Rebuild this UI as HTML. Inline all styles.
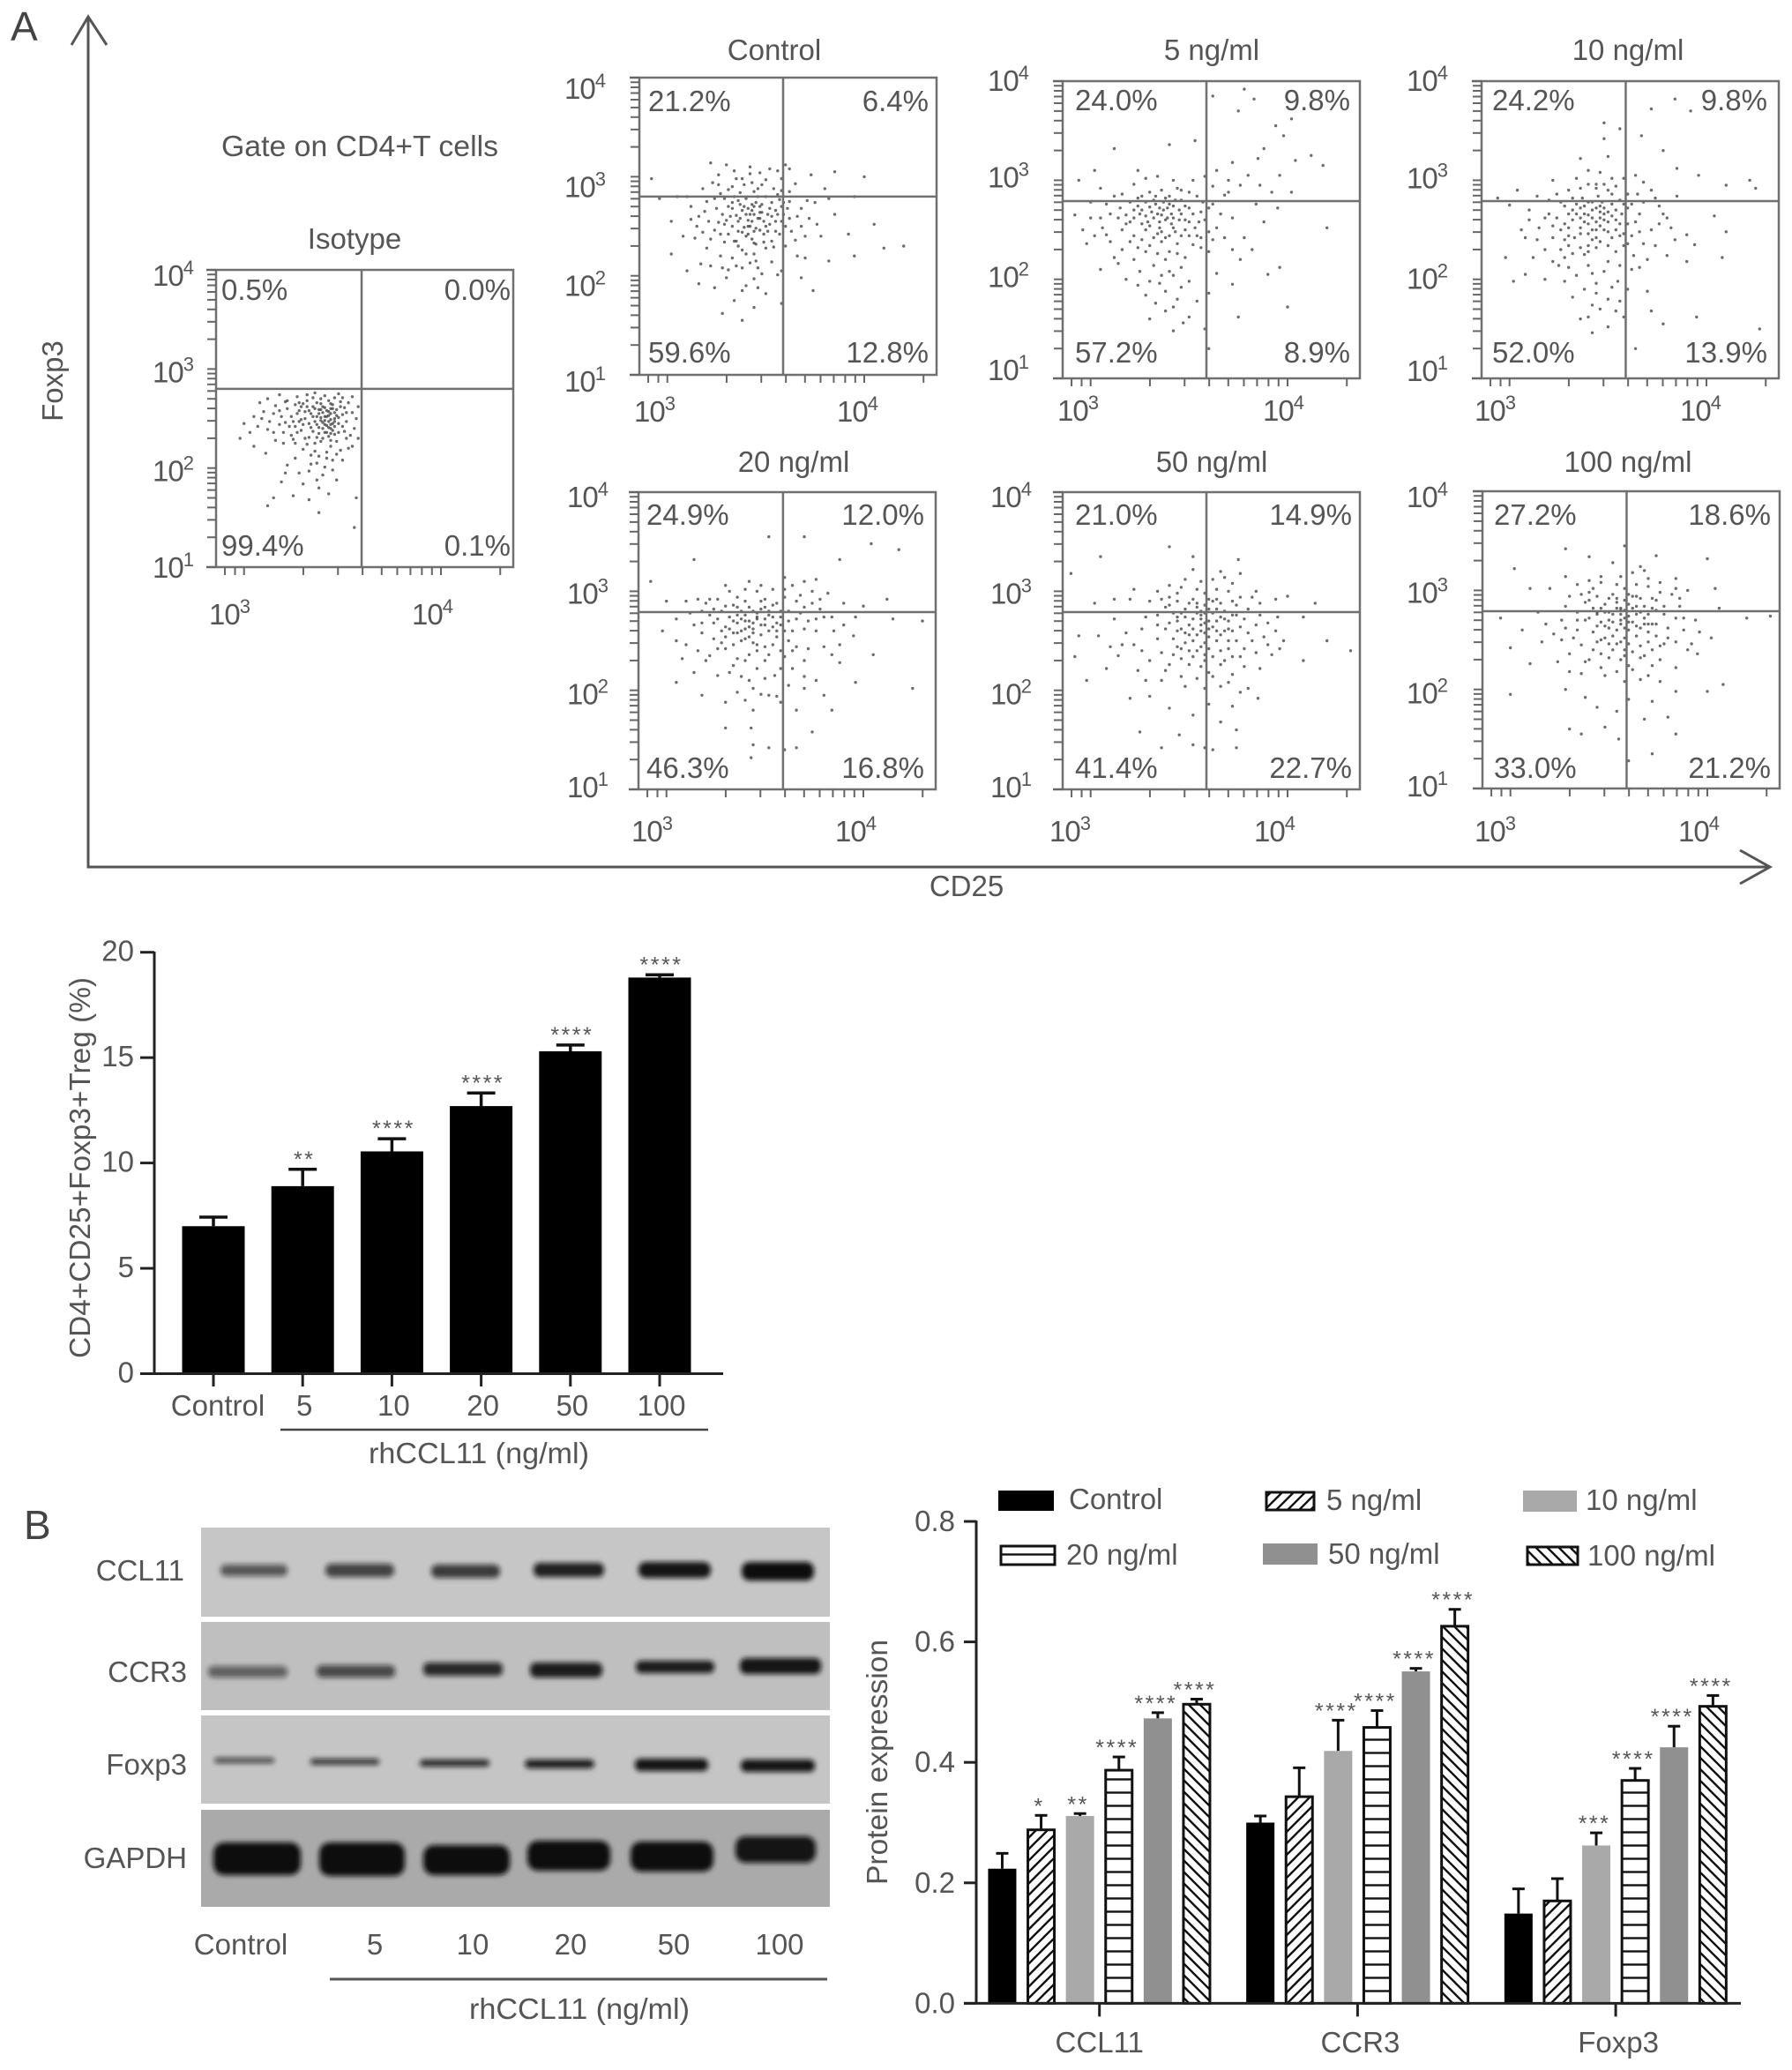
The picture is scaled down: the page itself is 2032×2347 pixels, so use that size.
<!DOCTYPE html>
<html>
<head>
<meta charset="utf-8">
<title>rhCCL11 Treg flow cytometry and protein expression</title>
<style>
html,body{margin:0;padding:0;background:#fff;}
svg{display:block;font-family:"Liberation Sans",sans-serif;}
text{fill:#555;font-size:33px;}
</style>
</head>
<body>
<svg id="fig" xmlns="http://www.w3.org/2000/svg" width="2032" height="2347" viewBox="0 0 2032 2347">
<defs>
<pattern id="hatchFwd" patternUnits="userSpaceOnUse" width="13" height="13"><path d="M-2,2 L2,-2 M0,13 L13,0 M11,15 L15,11" stroke="#111" stroke-width="2.4"/></pattern>
<pattern id="hatchBack" patternUnits="userSpaceOnUse" width="13" height="13"><path d="M-2,11 L2,15 M0,0 L13,13 M11,-2 L15,2" stroke="#111" stroke-width="2.4"/></pattern>
<pattern id="hatchHoriz" patternUnits="userSpaceOnUse" width="15" height="15"><path d="M0,7.5 L15,7.5" stroke="#111" stroke-width="2.4"/></pattern>
<filter id="bandBlur" x="-20%" y="-80%" width="140%" height="260%"><feGaussianBlur stdDeviation="3"/></filter>
</defs>
<rect width="2032" height="2347" fill="#fff"/>

<text x="12" y="46" style="font-size:46px;fill:#444">A</text>
<text x="27" y="1745" style="font-size:46px;fill:#444">B</text>

<g stroke="#555" stroke-width="3" fill="none">
<path d="M100,19 L100,983 L2007,983"/>
<path d="M81,51 L100,19 L121,51"/>
<path d="M1973,964 L2007,983 L1973,1002"/>
</g>
<text transform="translate(71,432) rotate(-90)" text-anchor="middle">Foxp3</text>
<text x="1096" y="1016" text-anchor="middle">CD25</text>
<text x="408" y="177" text-anchor="middle" textLength="314" lengthAdjust="spacingAndGlyphs">Gate on CD4+T cells</text>

<g id="flowPanels"></g>
<g id="tregChart"></g>

<g>
<rect x="228" y="1732" width="713" height="101" fill="#c6c6c6"/>
<rect x="228" y="1839" width="713" height="100" fill="#bfbfbf"/>
<rect x="228" y="1945" width="713" height="100" fill="#c5c5c5"/>
<rect x="228" y="2052" width="713" height="110" fill="#aaaaaa"/>
<g filter="url(#bandBlur)" fill="#111">
<rect x="250" y="1774" width="76" height="13" rx="6" opacity=".62"/>
<rect x="369" y="1773" width="78" height="15" rx="7" opacity=".72"/>
<rect x="489" y="1774" width="78" height="15" rx="7" opacity=".76"/>
<rect x="605" y="1772" width="80" height="16" rx="7" opacity=".9"/>
<rect x="724" y="1771" width="82" height="18" rx="8" opacity=".96"/>
<rect x="841" y="1771" width="82" height="21" rx="9" opacity="1"/>
<rect x="236" y="1889" width="90" height="13" rx="6" opacity=".55"/>
<rect x="359" y="1888" width="89" height="14" rx="6" opacity=".68"/>
<rect x="480" y="1885" width="90" height="15" rx="6" opacity=".85"/>
<rect x="601" y="1885" width="82" height="17" rx="7" opacity=".92"/>
<rect x="721" y="1883" width="89" height="14" rx="6" opacity=".92"/>
<rect x="839" y="1880" width="92" height="18" rx="7" opacity=".96"/>
<rect x="243" y="1993" width="68" height="6" rx="3" opacity=".7"/>
<rect x="352" y="1994" width="78" height="7" rx="3" opacity=".78"/>
<rect x="476" y="1995" width="79" height="8" rx="4" opacity=".85"/>
<rect x="595" y="1995" width="79" height="10" rx="5" opacity=".9"/>
<rect x="720" y="1994" width="83" height="14" rx="6" opacity=".96"/>
<rect x="840" y="1995" width="84" height="14" rx="6" opacity=".96"/>
<rect x="242" y="2089" width="99" height="37" rx="12" opacity="1"/>
<rect x="362" y="2089" width="97" height="38" rx="12" opacity="1"/>
<rect x="480" y="2092" width="98" height="34" rx="12" opacity="1"/>
<rect x="598" y="2087" width="94" height="34" rx="12" opacity="1"/>
<rect x="715" y="2088" width="94" height="34" rx="12" opacity="1"/>
<rect x="834" y="2082" width="91" height="30" rx="11" opacity=".96"/>
</g>
<text x="209" y="1792" text-anchor="end">CCL11</text>
<text x="212" y="1907" text-anchor="end">CCR3</text>
<text x="212" y="2012" text-anchor="end">Foxp3</text>
<text x="212" y="2118" text-anchor="end">GAPDH</text>
<text x="273" y="2216" text-anchor="middle">Control</text>
<text x="425" y="2216" text-anchor="middle">5</text>
<text x="536" y="2216" text-anchor="middle">10</text>
<text x="647" y="2216" text-anchor="middle">20</text>
<text x="764" y="2216" text-anchor="middle">50</text>
<text x="884" y="2216" text-anchor="middle">100</text>
<line x1="374" y1="2244" x2="938" y2="2244" stroke="#555" stroke-width="3"/>
<text x="657" y="2289" text-anchor="middle" textLength="250" lengthAdjust="spacingAndGlyphs">rhCCL11 (ng/ml)</text>
</g>

<g id="proteinChart"></g>
</svg>

<script>
/* ---------- Flow cytometry data: [log10 CD25, log10 Foxp3], estimated by eye ---------- */
const isotypePoints=[[3.42,2.58],[3.44,2.55],[3.40,2.62],[3.46,2.50],[3.38,2.55],[3.43,2.47],[3.47,2.59],[3.41,2.44],[3.36,2.60],[3.45,2.64],[3.39,2.48],[3.48,2.45],[3.35,2.52],[3.44,2.40],[3.50,2.54],[3.33,2.58],[3.42,2.36],[3.37,2.44],[3.49,2.62],[3.31,2.50],[3.46,2.34],[3.40,2.30],[3.52,2.47],[3.29,2.62],[3.34,2.41],[3.43,2.68],[3.51,2.37],[3.27,2.55],[3.38,2.35],[3.47,2.27],[3.25,2.47],[3.55,2.56],[3.32,2.68],[3.22,2.60],[3.36,2.25],[3.44,2.22],[3.53,2.66],[3.19,2.52],[3.29,2.38],[3.41,2.73],[3.49,2.18],[3.16,2.63],[3.24,2.33],[3.56,2.40],[3.13,2.47],[3.34,2.13],[3.42,2.10],[3.27,2.72],[3.10,2.57],[3.20,2.25],[3.48,2.75],[3.07,2.42],[3.50,2.08],[3.37,2.05],[3.15,2.36],[3.05,2.52],[3.03,2.36],[3.30,2.19],[3.55,2.22],[3.00,2.45],[3.12,2.70],[3.18,2.74],[3.36,2.76],[3.26,2.10],[3.45,1.98],[3.40,1.93],[3.33,1.97],[3.55,2.72],[2.98,2.30],[3.11,2.15],[3.22,2.03],[3.47,1.88],[3.30,1.84],[3.38,1.80],[3.19,1.86],[3.15,1.70],[3.25,1.72],[3.33,1.68],[3.43,1.74],[3.12,1.62],[3.38,1.55],[3.58,2.30],[3.58,2.62],[3.05,2.22],[3.08,2.66],[3.28,2.47],[3.31,2.30],[3.52,2.30],[3.18,2.44],[3.22,2.68],[3.57,1.70],[3.56,1.40],[3.39,2.65],[3.43,2.53],[3.45,2.45],[3.41,2.52],[3.46,2.56],[3.40,2.40],[3.37,2.52],[3.44,2.60]];
const isotypeCorePoints=[[3.41,2.61],[3.43,2.57],[3.39,2.51],[3.44,2.49],[3.47,2.53],[3.42,2.43],[3.45,2.38],[3.40,2.46],[3.38,2.59],[3.36,2.47],[3.34,2.55],[3.32,2.62],[3.30,2.44],[3.28,2.58],[3.26,2.64],[3.24,2.52],[3.23,2.42],[3.21,2.67],[3.35,2.37],[3.33,2.31],[3.39,2.27],[3.43,2.32],[3.46,2.42],[3.48,2.36],[3.50,2.42],[3.52,2.56],[3.49,2.67],[3.46,2.71],[3.44,2.65],[3.37,2.66],[3.35,2.71],[3.31,2.57],[3.29,2.49],[3.27,2.36],[3.25,2.29],[3.36,2.17],[3.42,2.16],[3.44,2.28],[3.47,2.14],[3.38,2.12],[3.32,2.24],[3.18,2.58],[3.15,2.55],[3.12,2.39],[3.09,2.50],[3.54,2.33],[3.53,2.20],[3.57,2.50],[3.34,2.04],[3.41,2.01],[3.28,2.66],[3.42,2.52],[3.44,2.44],[3.40,2.56],[3.45,2.60],[3.41,2.48],[3.43,2.41],[3.46,2.47],[3.38,2.41],[3.39,2.59],[3.44,2.35],[3.37,2.31],[3.41,2.36],[3.48,2.51],[3.35,2.62],[3.33,2.45],[3.26,2.42],[3.21,2.46],[3.20,2.36],[3.30,2.65],[3.51,2.61],[3.50,2.71],[3.39,2.70],[3.32,2.74],[3.26,2.25],[3.16,2.28],[3.28,1.95],[3.37,1.88],[3.21,1.95],[3.45,2.08]];
const controlPoints=[[3.43,2.72],[3.38,2.66],[3.47,2.58],[3.41,2.50],[3.52,2.68],[3.33,2.74],[3.44,2.85],[3.36,2.55],[3.50,2.80],[3.28,2.62],[3.56,2.62],[3.40,2.40],[3.48,2.92],[3.31,2.87],[3.59,2.74],[3.24,2.78],[3.44,2.33],[3.35,2.98],[3.55,2.45],[3.21,2.55],[3.62,2.85],[3.38,2.26],[3.27,2.42],[3.50,2.28],[3.66,2.60],[3.18,2.88],[3.42,3.03],[3.58,2.98],[3.15,2.50],[3.33,2.18],[3.71,2.76],[3.45,2.15],[3.26,3.02],[3.60,2.30],[3.12,2.70],[3.76,2.52],[3.38,2.08],[3.20,2.28],[3.52,3.08],[3.80,2.88],[3.08,2.40],[3.48,2.02],[3.66,2.20],[3.30,1.98],[3.85,2.62],[3.05,2.80],[3.17,2.12],[3.40,1.90],[3.73,3.02],[3.58,2.05],[3.02,2.55],[3.24,1.88],[3.92,2.42],[3.50,1.82],[3.34,1.75],[3.02,2.22],[3.95,2.80],[3.68,1.98],[3.44,1.68],[3.16,1.92],[3.28,1.62],[3.38,1.55],[3.58,1.72],[2.96,2.78],[4.05,2.52],[4.20,2.30],[3.82,2.15],[3.74,1.85],[3.10,2.05],[3.30,3.12],[3.62,3.08],[3.85,3.05],[4.00,3.00],[3.22,3.14],[2.92,2.98],[3.44,2.62],[3.40,2.78],[3.47,2.70],[3.36,2.45],[3.52,2.52],[3.42,2.62],[3.32,2.60],[3.46,2.80],[3.56,2.82],[3.29,2.52],[3.39,2.92],[3.49,2.42],[3.53,2.35],[3.34,2.80],[3.43,2.55],[3.37,2.72],[3.58,2.70],[3.25,2.68],[3.45,2.48],[3.63,2.45],[3.19,2.65],[3.35,2.35],[3.70,2.40],[3.41,2.68],[3.48,2.64],[3.55,2.55],[3.14,2.38],[3.82,2.78],[3.95,2.20],[3.44,2.22],[4.10,2.28]];
const controlCorePoints=[[3.35,2.61],[3.37,2.58],[3.39,2.70],[3.41,2.56],[3.43,2.66],[3.45,2.74],[3.47,2.64],[3.49,2.55],[3.51,2.62],[3.53,2.74],[3.55,2.66],[3.57,2.77],[3.59,2.62],[3.61,2.68],[3.33,2.68],[3.31,2.70],[3.29,2.78],[3.27,2.83],[3.37,2.84],[3.39,2.49],[3.41,2.42],[3.43,2.37],[3.45,2.32],[3.47,2.46],[3.49,2.34],[3.51,2.45],[3.54,2.29],[3.57,2.42],[3.60,2.50],[3.33,2.50],[3.31,2.42],[3.29,2.34],[3.26,2.54],[3.24,2.46],[3.22,2.37],[3.36,2.30],[3.40,2.22],[3.42,2.13],[3.46,2.08],[3.35,2.10],[3.31,2.06],[3.27,2.20],[3.22,2.10],[3.53,2.14],[3.56,2.01],[3.44,1.97],[3.38,1.85],[3.46,1.88],[3.33,2.90],[3.38,2.98],[3.43,2.94],[3.46,2.88],[3.50,2.97],[3.54,2.88],[3.58,2.86],[3.62,2.75],[3.65,2.93],[3.68,2.68],[3.72,2.58],[3.75,2.74],[3.65,2.36],[3.68,2.50],[3.78,2.40],[3.26,2.92],[3.23,2.94],[3.20,2.75],[3.16,2.60],[3.18,2.44],[3.12,2.57],[3.10,2.80],[3.42,3.10],[3.34,3.06],[3.47,3.04],[3.56,3.06],[3.60,3.12],[3.40,2.62],[3.44,2.70],[3.48,2.72],[3.42,2.50],[3.36,2.76],[3.53,2.60],[3.58,2.55],[3.38,2.44],[3.46,2.58],[3.30,2.56],[3.44,2.45],[3.50,2.50],[3.34,2.35],[3.62,2.58],[3.70,2.18],[3.28,2.08]];
const fiveNgPoints=[[3.37,2.70],[3.32,2.62],[3.42,2.74],[3.28,2.78],[3.45,2.60],[3.35,2.52],[3.25,2.66],[3.40,2.84],[3.50,2.72],[3.20,2.58],[3.30,2.88],[3.48,2.50],[3.38,2.42],[3.54,2.84],[3.15,2.72],[3.22,2.44],[3.44,2.92],[3.58,2.60],[3.12,2.84],[3.30,2.34],[3.56,2.42],[3.05,2.62],[3.40,2.28],[3.62,2.76],[3.08,2.45],[3.22,2.96],[3.48,2.22],[3.64,2.52],[3.00,2.78],[3.32,2.14],[3.52,3.00],[3.70,2.88],[3.12,2.22],[3.25,2.08],[3.60,2.28],[2.96,2.50],[3.42,2.04],[3.72,2.62],[3.05,2.92],[3.35,1.96],[3.50,1.98],[3.78,2.42],[2.92,2.65],[3.18,2.00],[3.64,2.06],[3.84,2.76],[3.28,1.84],[3.44,1.80],[3.60,1.86],[3.05,2.10],[3.82,2.30],[3.38,1.68],[3.50,1.62],[3.30,1.60],[3.42,1.48],[3.58,1.50],[3.60,1.30],[3.75,1.62],[3.72,1.95],[3.90,2.05],[4.00,1.72],[3.96,2.12],[3.64,3.10],[3.72,3.18],[3.80,3.05],[3.88,3.32],[3.96,3.05],[4.04,3.20],[3.94,3.55],[4.02,3.62],[3.75,3.70],[3.62,3.85],[3.78,3.92],[3.83,3.82],[3.98,3.45],[3.85,3.22],[4.12,3.25],[4.18,3.15],[4.02,2.88],[3.95,2.72],[3.88,2.58],[4.20,2.52],[3.76,2.95],[3.68,2.85],[3.40,3.36],[3.53,3.40],[3.12,3.32],[2.94,3.00],[3.02,3.10],[3.24,3.10],[3.36,2.65],[3.33,2.76],[3.41,2.56],[3.46,2.66],[3.29,2.58],[3.38,2.82],[3.26,2.70],[3.43,2.48],[3.35,2.72],[3.34,2.46],[3.50,2.58],[3.18,2.65],[3.24,2.82],[3.46,2.80],[3.31,2.68],[3.39,2.62],[3.56,2.68],[3.16,2.50],[3.52,2.35],[3.10,2.66]];
const fiveNgCorePoints=[[3.35,2.58],[3.37,2.78],[3.39,2.72],[3.41,2.66],[3.43,2.80],[3.30,2.73],[3.28,2.64],[3.26,2.84],[3.24,2.74],[3.22,2.62],[3.20,2.78],[3.18,2.56],[3.16,2.86],[3.14,2.62],[3.33,2.84],[3.36,2.90],[3.42,2.52],[3.40,2.44],[3.36,2.38],[3.32,2.42],[3.28,2.50],[3.26,2.40],[3.24,2.32],[3.20,2.38],[3.16,2.30],[3.44,2.36],[3.46,2.44],[3.50,2.44],[3.53,2.52],[3.55,2.58],[3.52,2.66],[3.48,2.74],[3.46,2.90],[3.50,2.88],[3.57,2.78],[3.60,2.72],[3.60,2.48],[3.62,2.40],[3.56,2.32],[3.44,2.26],[3.38,2.20],[3.34,2.26],[3.28,2.28],[3.22,2.20],[3.14,2.16],[3.46,2.12],[3.40,2.08],[3.36,2.04],[3.30,1.98],[3.24,1.94],[3.46,1.92],[3.38,1.88],[3.33,1.76],[3.42,1.72],[3.54,1.78],[3.47,1.56],[3.10,2.38],[3.08,2.76],[3.06,2.52],[3.02,2.44],[3.00,2.62],[2.98,2.36],[3.66,2.66],[3.68,2.42],[3.72,2.30],[3.76,2.20],[3.70,3.00],[3.62,2.94],[3.58,3.04],[3.28,3.02],[3.34,3.04],[3.42,3.00],[3.38,2.60],[3.34,2.66],[3.30,2.54],[3.42,2.62],[3.36,2.48],[3.45,2.70],[3.32,2.80],[3.26,2.56],[3.48,2.60],[3.22,2.70],[3.54,2.44],[3.40,2.76],[3.92,2.88],[3.86,2.95]];
const tenNgPoints=[[3.44,2.72],[3.40,2.65],[3.48,2.60],[3.36,2.72],[3.52,2.76],[3.45,2.84],[3.32,2.60],[3.57,2.66],[3.42,2.50],[3.50,2.90],[3.28,2.74],[3.60,2.86],[3.36,2.46],[3.54,2.50],[3.24,2.62],[3.44,2.96],[3.64,2.58],[3.30,2.90],[3.46,2.38],[3.20,2.80],[3.68,2.78],[3.30,2.34],[3.58,2.34],[3.15,2.52],[3.52,3.02],[3.72,2.90],[3.38,2.25],[3.22,3.00],[3.72,2.50],[3.10,2.70],[3.50,2.18],[3.64,3.05],[3.25,2.14],[3.80,2.62],[3.06,2.50],[3.40,3.10],[3.62,2.10],[3.42,2.06],[3.85,2.84],[3.00,2.75],[3.55,1.98],[3.28,1.98],[3.90,2.45],[3.12,2.22],[3.70,2.20],[3.44,1.86],[3.56,1.78],[3.70,1.88],[3.32,1.82],[3.18,2.00],[3.46,1.70],[3.58,1.62],[3.36,1.60],[3.50,1.52],[3.42,1.46],[3.72,1.68],[3.78,1.55],[3.02,1.98],[2.98,2.22],[3.08,2.05],[3.90,2.18],[4.08,2.22],[3.96,3.05],[4.10,2.95],[3.85,3.12],[3.78,3.30],[3.92,3.70],[3.72,3.72],[3.84,3.82],[3.48,3.58],[3.48,3.42],[3.56,3.52],[3.67,3.45],[3.36,3.22],[3.50,3.24],[4.25,2.92],[4.22,3.00],[4.04,2.64],[4.10,2.48],[3.94,2.35],[4.27,1.50],[3.95,1.62],[3.64,1.30],[3.04,2.90],[2.94,2.82],[3.40,2.78],[3.46,2.68],[3.38,2.58],[3.50,2.68],[3.34,2.66],[3.42,2.62],[3.54,2.60],[3.47,2.78],[3.30,2.52],[3.56,2.80],[3.26,2.50],[3.44,2.42],[3.52,2.42],[3.60,2.72],[3.37,2.82],[3.48,2.50],[3.33,2.42],[3.62,2.44],[3.40,2.34],[3.66,2.66],[3.18,2.62],[3.76,2.74],[3.82,2.52]];
const tenNgCorePoints=[[3.42,2.70],[3.44,2.58],[3.46,2.74],[3.48,2.66],[3.50,2.58],[3.52,2.86],[3.54,2.70],[3.56,2.56],[3.58,2.76],[3.40,2.56],[3.38,2.66],[3.36,2.62],[3.34,2.76],[3.32,2.82],[3.30,2.66],[3.28,2.56],[3.26,2.78],[3.24,2.86],[3.22,2.54],[3.20,2.66],[3.42,2.40],[3.44,2.32],[3.40,2.28],[3.36,2.32],[3.32,2.26],[3.28,2.40],[3.26,2.30],[3.22,2.42],[3.50,2.34],[3.54,2.28],[3.58,2.46],[3.60,2.56],[3.62,2.76],[3.65,2.86],[3.66,2.48],[3.68,2.36],[3.63,2.24],[3.56,2.14],[3.48,2.08],[3.40,2.14],[3.34,2.04],[3.30,2.12],[3.22,2.18],[3.18,2.30],[3.52,1.92],[3.44,1.96],[3.38,1.90],[3.60,1.90],[3.50,1.80],[3.42,1.74],[3.40,1.62],[3.54,1.68],[3.44,2.92],[3.40,2.96],[3.36,2.92],[3.48,2.96],[3.54,2.94],[3.58,3.02],[3.46,3.08],[3.34,3.02],[3.68,2.98],[3.74,2.82],[3.78,2.66],[3.76,2.56],[3.74,2.34],[3.84,2.40],[3.80,2.24],[3.14,2.84],[3.10,2.60],[3.08,2.42],[3.14,2.40],[3.42,2.78],[3.46,2.62],[3.44,2.50],[3.48,2.72],[3.40,2.46],[3.50,2.48],[3.38,2.74],[3.46,2.54],[3.52,2.64],[3.36,2.52],[3.32,2.70],[3.56,2.44],[3.30,2.44],[3.60,2.36],[3.66,2.12],[3.28,2.22]];
const twentyNgPoints=[[3.46,2.78],[3.42,2.70],[3.50,2.72],[3.38,2.80],[3.54,2.64],[3.44,2.62],[3.34,2.70],[3.58,2.80],[3.40,2.90],[3.50,2.92],[3.30,2.85],[3.62,2.70],[3.36,2.58],[3.56,2.54],[3.26,2.72],[3.46,3.00],[3.66,2.90],[3.22,2.92],[3.44,2.48],[3.32,3.00],[3.70,2.62],[3.18,2.80],[3.60,3.02],[3.28,2.48],[3.58,2.40],[3.14,2.66],[3.74,3.00],[3.10,2.90],[3.42,2.36],[3.78,2.82],[3.22,2.35],[3.66,2.44],[3.05,2.72],[3.82,2.98],[3.50,2.30],[3.34,2.25],[3.85,2.60],[3.42,3.10],[3.60,3.14],[3.76,3.12],[3.05,2.50],[3.55,2.15],[3.26,2.15],[3.95,2.55],[2.98,2.60],[3.42,2.10],[3.70,2.30],[3.14,2.18],[3.62,2.05],[3.36,1.98],[3.70,2.02],[3.52,1.95],[3.05,2.08],[3.18,1.95],[3.30,1.88],[3.80,1.95],[3.44,1.80],[3.58,1.88],[3.66,1.80],[3.30,1.62],[3.43,1.62],[3.74,1.58],[3.44,1.45],[3.52,1.42],[3.60,1.40],[3.66,1.42],[3.43,1.32],[3.88,2.28],[4.05,2.36],[4.25,2.02],[3.96,2.08],[3.84,1.80],[4.00,2.85],[4.12,2.92],[4.15,2.72],[4.30,2.70],[3.88,3.32],[4.04,3.48],[4.18,3.42],[3.70,3.55],[3.52,3.55],[3.14,3.32],[2.92,3.10],[3.00,2.90],[3.40,2.76],[3.48,2.82],[3.36,2.68],[3.52,2.76],[3.44,2.68],[3.32,2.62],[3.56,2.68],[3.40,2.62],[3.48,2.56],[3.28,2.60],[3.60,2.60],[3.54,2.86],[3.36,2.94],[3.24,2.82],[3.68,2.78],[3.30,2.42],[3.46,2.40],[3.18,2.58],[3.62,2.50],[3.76,2.72],[3.84,2.74],[3.90,2.88]];
const twentyNgCorePoints=[[3.44,2.80],[3.46,2.72],[3.48,2.66],[3.50,2.84],[3.52,2.60],[3.54,2.74],[3.42,2.84],[3.40,2.70],[3.38,2.60],[3.36,2.76],[3.34,2.86],[3.32,2.74],[3.30,2.64],[3.28,2.80],[3.26,2.92],[3.24,2.68],[3.22,2.76],[3.20,2.88],[3.18,2.68],[3.16,2.92],[3.56,2.88],[3.58,2.66],[3.60,2.94],[3.62,2.80],[3.64,2.60],[3.66,2.72],[3.68,2.96],[3.70,2.84],[3.72,2.70],[3.74,2.88],[3.76,2.60],[3.78,2.92],[3.80,2.74],[3.42,2.54],[3.38,2.50],[3.34,2.46],[3.30,2.54],[3.26,2.42],[3.24,2.52],[3.46,2.46],[3.50,2.44],[3.52,2.36],[3.54,2.46],[3.60,2.34],[3.64,2.40],[3.40,2.30],[3.36,2.32],[3.32,2.18],[3.38,2.14],[3.46,2.22],[3.50,2.12],[3.58,2.22],[3.44,2.02],[3.48,1.96],[3.56,1.94],[3.40,1.90],[3.64,2.22],[3.70,2.14],[3.76,2.10],[3.72,2.42],[3.80,2.44],[3.88,2.46],[3.84,2.36],[3.90,2.66],[3.96,2.74],[3.20,2.30],[3.16,2.40],[3.10,2.46],[3.08,2.32],[3.12,2.78],[3.40,3.02],[3.48,3.06],[3.54,3.02],[3.30,3.06],[3.64,3.06],[3.70,3.10],[3.46,2.74],[3.44,2.58],[3.50,2.66],[3.42,2.64],[3.52,2.80],[3.38,2.72],[3.56,2.60],[3.48,2.90],[3.36,2.84],[3.40,2.52],[3.58,2.74],[3.34,2.58]];
const fiftyNgPoints=[[3.56,2.80],[3.52,2.72],[3.60,2.70],[3.48,2.82],[3.64,2.82],[3.56,2.60],[3.44,2.70],[3.68,2.72],[3.52,2.92],[3.60,2.92],[3.40,2.86],[3.50,2.56],[3.66,2.56],[3.72,2.90],[3.38,2.62],[3.58,2.48],[3.76,2.64],[3.44,2.98],[3.64,3.02],[3.34,2.76],[3.46,2.42],[3.70,2.42],[3.30,2.90],[3.80,2.82],[3.56,3.10],[3.72,3.08],[3.58,2.36],[3.26,2.62],[3.82,2.50],[3.36,2.38],[3.48,3.12],[3.84,3.00],[3.66,2.26],[3.20,2.92],[3.50,2.26],[3.22,2.46],[3.90,2.68],[3.60,2.18],[3.38,2.20],[3.78,2.24],[3.12,2.72],[3.66,3.20],[3.52,3.22],[3.94,2.92],[3.14,2.35],[3.70,2.08],[3.28,2.10],[3.48,2.04],[3.58,2.02],[3.86,2.22],[3.04,2.55],[3.80,2.02],[3.08,2.22],[3.30,1.94],[3.20,1.92],[3.60,1.86],[3.72,1.84],[3.85,1.92],[3.40,1.82],[3.52,1.75],[3.66,1.68],[3.74,1.60],[3.45,1.55],[3.25,1.58],[3.52,1.45],[3.58,1.42],[3.62,1.40],[3.74,1.42],[3.36,1.42],[2.94,2.55],[2.92,2.34],[2.98,2.10],[3.02,2.88],[3.12,2.92],[3.22,3.02],[3.05,3.35],[2.90,3.18],[3.40,3.45],[3.52,3.35],[3.75,3.32],[3.95,2.74],[4.08,2.74],[4.00,2.95],[4.14,2.88],[4.20,2.50],[4.32,2.40],[4.08,2.30],[3.96,2.42],[3.44,2.74],[3.50,2.66],[3.56,2.72],[3.62,2.64],[3.54,2.84],[3.58,2.78],[3.46,2.62],[3.68,2.60],[3.42,2.52],[3.74,2.76],[3.60,2.54],[3.70,2.50],[3.34,2.52],[3.54,2.40],[3.76,2.34],[3.28,2.74],[3.86,2.76],[3.40,2.94],[3.64,2.92],[3.90,2.46]];
const fiftyNgCorePoints=[[3.54,2.88],[3.56,2.66],[3.58,2.86],[3.60,2.62],[3.62,2.78],[3.64,2.70],[3.66,2.88],[3.68,2.80],[3.50,2.88],[3.48,2.74],[3.46,2.78],[3.44,2.90],[3.42,2.78],[3.40,2.68],[3.38,2.84],[3.36,2.92],[3.34,2.66],[3.70,2.70],[3.72,2.60],[3.74,2.86],[3.76,2.94],[3.78,2.72],[3.80,2.58],[3.82,2.94],[3.84,2.66],[3.86,2.88],[3.52,2.50],[3.54,2.56],[3.56,2.44],[3.58,2.58],[3.60,2.42],[3.62,2.34],[3.64,2.50],[3.66,2.40],[3.68,2.30],[3.72,2.34],[3.74,2.50],[3.78,2.42],[3.48,2.48],[3.46,2.32],[3.44,2.44],[3.42,2.36],[3.40,2.26],[3.52,2.34],[3.56,2.24],[3.62,2.14],[3.66,2.04],[3.72,2.16],[3.76,1.98],[3.54,2.12],[3.46,2.14],[3.36,2.10],[3.30,2.30],[3.26,2.40],[3.24,2.20],[3.18,2.58],[3.16,2.46],[3.10,2.44],[3.84,2.38],[3.88,2.54],[3.92,2.36],[3.94,2.60],[3.98,2.50],[3.54,3.02],[3.58,2.98],[3.62,3.12],[3.68,3.14],[3.70,3.00],[3.76,3.18],[3.46,3.04],[3.40,3.06],[3.34,3.00],[3.56,2.76],[3.60,2.82],[3.52,2.62],[3.64,2.60],[3.58,2.68],[3.54,2.78],[3.66,2.74],[3.48,2.58],[3.62,2.90],[3.44,2.60],[3.72,2.76],[3.50,2.40],[3.58,2.30],[3.70,2.62]];
const hundredNgPoints=[[3.56,2.82],[3.52,2.76],[3.60,2.74],[3.48,2.86],[3.64,2.84],[3.56,2.66],[3.44,2.76],[3.68,2.72],[3.52,2.96],[3.60,2.96],[3.40,2.90],[3.50,2.62],[3.66,2.62],[3.72,2.92],[3.38,2.70],[3.58,2.52],[3.74,2.66],[3.42,3.02],[3.64,3.06],[3.34,2.78],[3.46,2.50],[3.70,2.48],[3.30,2.94],[3.78,2.84],[3.56,3.14],[3.70,3.12],[3.58,2.40],[3.26,2.70],[3.80,2.52],[3.36,2.45],[3.46,3.14],[3.84,3.02],[3.66,2.32],[3.20,3.02],[3.50,2.32],[3.22,2.56],[3.88,2.72],[3.60,2.24],[3.38,2.28],[3.76,2.30],[3.14,2.78],[3.66,3.24],[3.52,3.28],[3.90,3.00],[3.16,2.48],[3.70,2.14],[3.30,2.18],[3.48,2.14],[3.58,2.08],[3.84,2.22],[3.10,3.02],[3.96,2.58],[3.10,2.26],[3.28,2.00],[3.38,1.92],[3.60,1.90],[3.72,1.88],[3.84,1.98],[3.44,1.82],[3.54,1.78],[3.68,1.70],[3.80,1.72],[3.48,1.62],[3.36,1.55],[3.30,1.60],[3.55,1.50],[3.60,1.28],[3.72,1.35],[3.84,1.55],[3.00,1.95],[3.06,2.60],[3.00,2.42],[2.95,2.72],[3.02,3.22],[3.28,3.42],[3.40,3.34],[3.58,3.45],[3.74,3.35],[4.00,3.32],[4.04,3.02],[4.06,2.82],[4.20,2.72],[4.32,2.74],[4.02,2.52],[3.95,2.36],[4.00,1.98],[4.08,2.05],[3.44,2.78],[3.50,2.70],[3.56,2.76],[3.62,2.68],[3.54,2.88],[3.58,2.80],[3.46,2.68],[3.68,2.66],[3.42,2.58],[3.74,2.80],[3.60,2.60],[3.70,2.58],[3.34,2.60],[3.54,2.46],[3.76,2.44],[3.28,2.84],[3.86,2.84],[3.40,2.98],[3.64,2.94],[3.90,2.40]];
const hundredNgCorePoints=[[3.54,2.92],[3.56,2.70],[3.58,2.90],[3.60,2.68],[3.62,2.82],[3.64,2.76],[3.66,2.92],[3.68,2.84],[3.50,2.92],[3.48,2.78],[3.46,2.82],[3.44,2.94],[3.42,2.82],[3.40,2.72],[3.38,2.88],[3.36,2.96],[3.34,2.70],[3.70,2.76],[3.72,2.66],[3.74,2.90],[3.76,2.98],[3.78,2.76],[3.80,2.62],[3.82,2.96],[3.84,2.72],[3.86,2.92],[3.52,2.54],[3.54,2.60],[3.56,2.48],[3.58,2.62],[3.60,2.46],[3.62,2.38],[3.64,2.54],[3.66,2.44],[3.68,2.34],[3.72,2.40],[3.74,2.54],[3.78,2.46],[3.48,2.52],[3.46,2.36],[3.44,2.48],[3.42,2.40],[3.40,2.30],[3.52,2.40],[3.56,2.30],[3.62,2.20],[3.66,2.10],[3.72,2.24],[3.76,2.08],[3.54,2.18],[3.46,2.22],[3.36,2.16],[3.30,2.36],[3.26,2.50],[3.24,2.28],[3.18,2.66],[3.28,2.62],[3.32,2.52],[3.84,2.48],[3.88,2.60],[3.92,2.46],[3.94,2.70],[3.54,3.06],[3.58,3.02],[3.62,3.18],[3.68,3.20],[3.70,3.04],[3.76,3.08],[3.46,3.08],[3.40,3.10],[3.34,3.06],[3.28,3.14],[3.84,3.12],[3.56,2.80],[3.60,2.86],[3.52,2.68],[3.64,2.64],[3.58,2.72],[3.54,2.82],[3.66,2.78],[3.48,2.64],[3.62,2.94],[3.44,2.64],[3.72,2.82],[3.50,2.46],[3.58,2.34],[3.70,2.66],[3.50,2.78]];

/* ---------- Treg bar chart data ---------- */
const tregCategories=['Control','5','10','20','50','100'];
const tregValues=[7.0,8.9,10.55,12.7,15.3,18.8];
const tregErrorTops=[7.43,9.7,11.15,13.32,15.6,18.93];
const tregSignificance=['','**','****','****','****','****'];
const tregTicks=[0,5,10,15,20];

/* ---------- Protein expression chart data ---------- */
const proteinGroups=['CCL11','CCR3','Foxp3'];
const doseLabels=['Control','5 ng/ml','10 ng/ml','20 ng/ml','50 ng/ml','100 ng/ml'];
const ccl11Values=[0.2235,0.288,0.311,0.387,0.473,0.4965];
const ccr3Values=[0.30,0.343,0.419,0.458,0.551,0.626];
const foxp3Values=[0.149,0.17,0.262,0.37,0.425,0.493];
const ccl11ErrorTops=[0.249,0.312,0.315,0.409,0.4825,0.505];
const ccr3ErrorTops=[0.311,0.391,0.47,0.486,0.556,0.654];
const foxp3ErrorTops=[0.19,0.207,0.283,0.39,0.46,0.511];
const ccl11Significance=['','*','**','****','****','****'];
const ccr3Significance=['','','****','****','****','****'];
const foxp3Significance=['','','***','****','****','****'];
const proteinTicks=[0,0.2,0.4,0.6,0.8];

const SVGNS='http://www.w3.org/2000/svg';
function el(tag,attrs,parent){
  const e=document.createElementNS(SVGNS,tag);
  for(const k in attrs){e.setAttribute(k,attrs[k]);}
  parent.appendChild(e);
  return e;
}
function txt(str,attrs,parent,size){
  const t=el('text',attrs,parent);
  t.textContent=str;
  if(size){t.style.fontSize=size+'px';}
  return t;
}
function powerLabel(base,exp,x,y,parent){
  const t=el('text',{x:x,y:y,'letter-spacing':'-1'},parent);
  t.style.fontSize='33px';
  t.appendChild(document.createTextNode(base));
  const s=el('tspan',{dy:-13},t);
  s.style.fontSize='22px';
  s.textContent=exp;
  return t;
}

/* ---------- Flow panel layout ---------- */
const LOG_X_MIN=2.858, X_DECADE=223.3, Y_DECADE=112.3;
const flowPanels=[
 {id:'isotype',title:'Isotype',tx:402,ty:282,left:245,top:306,points:isotypePoints,core:isotypeCorePoints,gate:[3.597,2.80],yLab:173,yDy:[12,15,15,18],xLab:[237,467],xBase:708,pl:251,pr:579,pt:340,pb:630,pct:['0.5%','0.0%','99.4%','0.1%']},
 {id:'control',title:'Control',tx:878,ty:68,left:725,top:88,points:controlPoints,core:controlCorePoints,gate:[3.588,2.80],yLab:640,yDy:[19,23,23,24],xLab:[719,949],xBase:478,pl:735,pr:1053,pt:126,pb:411,pct:['21.2%','6.4%','59.6%','12.8%']},
 {id:'5-ng',title:'5 ng/ml',tx:1374,ty:68,left:1205,top:92,points:fiveNgPoints,core:fiveNgCorePoints,gate:[3.588,2.79],yLab:1120,yDy:[2,9,8,11],xLab:[1199,1432],xBase:477,pl:1219,pr:1531,pt:125,pb:411,pct:['24.0%','9.8%','57.2%','8.9%']},
 {id:'10-ng',title:'10 ng/ml',tx:1846,ty:68,left:1680,top:92,points:tenNgPoints,core:tenNgCorePoints,gate:[3.590,2.79],yLab:1595,yDy:[3,11,9,11],xLab:[1672,1905],xBase:477,pl:1692,pr:2004,pt:125,pb:411,pct:['24.2%','9.8%','52.0%','13.9%']},
 {id:'20-ng',title:'20 ng/ml',tx:900,ty:535,left:724,top:558,points:twentyNgPoints,core:twentyNgCorePoints,gate:[3.592,2.79],yLab:643,yDy:[9,16,14,17],xLab:[716,947],xBase:954,pl:733,pr:1048,pt:595,pb:882,pct:['24.9%','12.0%','46.3%','16.8%']},
 {id:'50-ng',title:'50 ng/ml',tx:1374,ty:535,left:1205,top:558,points:fiftyNgPoints,core:fiftyNgCorePoints,gate:[3.588,2.79],yLab:1123,yDy:[9,16,14,17],xLab:[1190,1422],xBase:954,pl:1219,pr:1533,pt:595,pb:882,pct:['21.0%','14.9%','41.4%','22.7%']},
 {id:'100-ng',title:'100 ng/ml',tx:1846,ty:535,left:1681,top:557,points:hundredNgPoints,core:hundredNgCorePoints,gate:[3.590,2.79],yLab:1595,yDy:[9,16,14,18],xLab:[1672,1903],xBase:954,pl:1694,pr:2008,pt:595,pb:882,pct:['27.2%','18.6%','33.0%','21.2%']}
];
const xTickValues=[800,900,1000,2000,3000,4000,5000,6000,7000,8000,9000,10000,20000];
const yTickValues=[20,30,40,50,60,70,80,90,100,200,300,400,500,600,700,800,900,1000,2000,3000,4000,5000,6000,7000,8000,9000];

const flowRoot=document.getElementById('flowPanels');
flowPanels.forEach(function(p){
  const g=el('g',{},flowRoot);
  
  
  const width=337, height=337;
  const sx=function(v){return p.left+(v-LOG_X_MIN)*X_DECADE;};
  const sy=function(v){return p.top+height-(v-1)*Y_DECADE;};

  const title=txt(p.title,{x:p.tx,y:p.ty,'text-anchor':'middle'},g);
  
  

  p.points.concat(p.core).forEach(function(pt){
    const c=el('circle',{cx:sx(pt[0]).toFixed(1),cy:sy(pt[1]).toFixed(1),r:1.7,fill:'#333','fill-opacity':0.72},g);
    
    
  });

  const box=el('rect',{x:p.left,y:p.top,width:width,height:height,fill:'none',stroke:'#707070','stroke-width':2.5},g);
  
  

  const gateV=el('line',{x1:sx(p.gate[0]),x2:sx(p.gate[0]),y1:p.top,y2:p.top+height,stroke:'#707070','stroke-width':2.5},g);
  
  
  const gateH=el('line',{x1:p.left,x2:p.left+width,y1:sy(p.gate[1]),y2:sy(p.gate[1]),stroke:'#707070','stroke-width':2.5},g);
  
  

  xTickValues.forEach(function(v){
    const x=sx(Math.log10(v));
    const t=el('line',{x1:x,x2:x,y1:p.top+height,y2:p.top+height+9,stroke:'#666','stroke-width':2},g);
    
    
  });
  yTickValues.forEach(function(v){
    const y=sy(Math.log10(v));
    const t=el('line',{x1:p.left-10,x2:p.left,y1:y,y2:y,stroke:'#666','stroke-width':2},g);
    
    
  });
  const tTop=el('line',{x1:p.left-11,x2:p.left,y1:p.top,y2:p.top,stroke:'#666','stroke-width':2.5},g);
  
  
  const tBot=el('line',{x1:p.left-11,x2:p.left,y1:p.top+height,y2:p.top+height,stroke:'#666','stroke-width':2.5},g);
  
  

  [1,2,3,4].forEach(function(e,i){
    const l=powerLabel('10',String(e),p.yLab,sy(e)+p.yDy[i],g);
    
    
  });
  [3,4].forEach(function(e,i){
    const l=powerLabel('10',String(e),p.xLab[i],p.xBase,g);
    
    
  });

  const q1=txt(p.pct[0],{x:p.pl,y:p.pt},g);
  
  
  const q2=txt(p.pct[1],{x:p.pr,y:p.pt,'text-anchor':'end'},g);
  
  
  const q3=txt(p.pct[2],{x:p.pl,y:p.pb},g);
  
  
  const q4=txt(p.pct[3],{x:p.pr,y:p.pb,'text-anchor':'end'},g);
  
  
});

/* ---------- Treg bar chart ---------- */
(function(){
  const root=document.getElementById('tregChart');
  const y=function(v){return 1557.5-v*23.89;};
  const x=function(i){return 242+i*101.2;};
  const barW=71;
  tregValues.forEach(function(v,i){
    const et=y(tregErrorTops[i]);
    const stem=el('line',{x1:x(i),x2:x(i),y1:y(v),y2:et,stroke:'#111','stroke-width':3.5},root);
    
    
    const cap=el('line',{x1:x(i)-16,x2:x(i)+16,y1:et,y2:et,stroke:'#111','stroke-width':3.5},root);
    
    
    const b=el('rect',{x:x(i)-barW/2,y:y(v),width:barW,height:1557.5-y(v),fill:'#000'},root);
    
    
    if(tregSignificance[i]){
      const s=txt(tregSignificance[i],{x:x(i)+2,y:et-3,'text-anchor':'middle','letter-spacing':'2.5'},root,25);
      
      
    }
    const tick=el('line',{x1:x(i),x2:x(i),y1:1557.5,y2:1572,stroke:'#222','stroke-width':3},root);
    
    
    const lab=txt(tregCategories[i],{x:x(i)+(i===0?5:2),y:1605,'text-anchor':'middle'},root);
    
    
  });
  const yAxis=el('line',{x1:175,x2:175,y1:1079,y2:1559,stroke:'#222','stroke-width':3},root);
  
  
  const xAxis=el('line',{x1:159,x2:820,y1:1557.5,y2:1557.5,stroke:'#222','stroke-width':3},root);
  
  
  tregTicks.forEach(function(v){
    const t=el('line',{x1:159,x2:175,y1:y(v),y2:y(v),stroke:'#222','stroke-width':3},root);
    
    
    const l=txt(String(v),{x:152,y:y(v)+10,'text-anchor':'end'},root);
    
    
  });
  const title=txt('CD4+CD25+Foxp3+Treg (%)',{transform:'translate(102,1324) rotate(-90)','text-anchor':'middle',textLength:432,lengthAdjust:'spacingAndGlyphs'},root);
  
  
  const bracket=el('line',{x1:318,x2:803,y1:1621,y2:1621,stroke:'#444','stroke-width':2.5},root);
  
  
  const dose=txt('rhCCL11 (ng/ml)',{x:543,y:1659,'text-anchor':'middle',textLength:250,lengthAdjust:'spacingAndGlyphs'},root);
  
  
})();

/* ---------- Protein bar chart ---------- */
(function(){
  const root=document.getElementById('proteinChart');
  const fills=['#000','url(#hatchFwd)','#a9a9a9','url(#hatchHoriz)','#909090','url(#hatchBack)'];
  const outlined=[false,true,false,true,false,true];
  const seriesValues=[ccl11Values,ccr3Values,foxp3Values];
  const seriesErrors=[ccl11ErrorTops,ccr3ErrorTops,foxp3ErrorTops];
  const seriesSig=[ccl11Significance,ccr3Significance,foxp3Significance];
  const base=2271.4;
  const y=function(v){return base-v*683;};
  const gx=function(g){return 1246.7+g*292.7;};
  const bx=function(g,i){return gx(g)+(i-2.5)*44.1;};
  proteinGroups.forEach(function(name,g){
    seriesValues[g].forEach(function(v,i){
      const cx=bx(g,i);
      const et=y(seriesErrors[g][i]);
      const stem=el('line',{x1:cx,x2:cx,y1:y(v),y2:et,stroke:'#111','stroke-width':3},root);
      
      
      const cap=el('line',{x1:cx-7,x2:cx+7,y1:et,y2:et,stroke:'#111','stroke-width':3},root);
      
      
      const w=outlined[i]?30:32;
      const b=el('rect',{x:cx-w/2,y:y(v),width:w,height:base-y(v),fill:i===1||i===3||i===5?'#fff':fills[i]},root);
      
      
      if(outlined[i]){
        const h=el('rect',{x:cx-w/2,y:y(v),width:w,height:base-y(v),fill:fills[i],stroke:'#111','stroke-width':3},root);
        
        
      }
      if(seriesSig[g][i]){
        const s=txt(seriesSig[g][i],{x:cx-2,y:et-2,'text-anchor':'middle','letter-spacing':'2.5'},root,25);
        
        
      }
    });
    const tick=el('line',{x1:gx(g),x2:gx(g),y1:base,y2:base+15,stroke:'#222','stroke-width':3},root);
    
    
    const lab=txt(name,{x:gx(g)+(g===0?0:3),y:2327,'text-anchor':'middle'},root);
    
    
  });
  const yAxis=el('line',{x1:1107,x2:1107,y1:y(0.8)-1,y2:base+1,stroke:'#222','stroke-width':3},root);
  
  
  const xAxis=el('line',{x1:1093,x2:1974,y1:base,y2:base,stroke:'#222','stroke-width':3},root);
  
  
  proteinTicks.forEach(function(v){
    const t=el('line',{x1:1093,x2:1107,y1:y(v),y2:y(v),stroke:'#222','stroke-width':3},root);
    
    
    const l=txt(v.toFixed(1),{x:1083,y:y(v)+11,'text-anchor':'end'},root);
    
    
  });
  const title=txt('Protein expression',{transform:'translate(1006,1998) rotate(-90)','text-anchor':'middle',textLength:278,lengthAdjust:'spacingAndGlyphs'},root);
  
  

  const legendBoxes=[[1132,1690,63,23],[1436,1692,54,20],[1727,1690,61,24],[1135,1753,61,21],[1432,1750,62,24],[1732,1754,57,20]];
  const legendText=[[1212,1711],[1504,1712],[1798,1712],[1209,1774],[1506,1773],[1800,1775]];
  doseLabels.forEach(function(name,i){
    const b=legendBoxes[i];
    const g=el('g',{},root);
    
    
    if(outlined[i]){
      const bg=el('rect',{x:b[0],y:b[1],width:b[2],height:b[3],fill:'#fff'},g);
      
      
    }
    const s=el('rect',{x:b[0],y:b[1],width:b[2],height:b[3],fill:fills[i],stroke:outlined[i]?'#111':'none','stroke-width':3},g);
    
    
    const t=txt(name,{x:legendText[i][0],y:legendText[i][1]},g);
    
    
  });
})();
</script>
</body>
</html>
